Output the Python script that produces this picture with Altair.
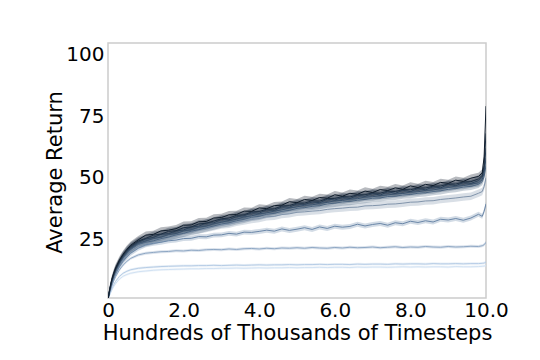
import altair as alt
import pandas as pd

X = [0, 0.05, 0.1, 0.15, 0.2, 0.3, 0.4, 0.5, 0.6, 0.8,
     1.0, 1.2, 1.4, 1.6, 1.8, 2.0, 2.2, 2.4, 2.6, 2.8, 3.0, 3.2, 3.4, 3.6, 3.8,
     4.0, 4.2, 4.4, 4.6, 4.8, 5.0, 5.2, 5.4, 5.6, 5.8, 6.0, 6.2, 6.4, 6.6, 6.8,
     7.0, 7.2, 7.4, 7.6, 7.8, 8.0, 8.2, 8.4, 8.6, 8.8, 9.0, 9.2, 9.4, 9.6, 9.8,
     9.9, 9.95, 10.0]

# lightest (index 0) to darkest (index 9)
run0 = [1.0, 2.9, 4.6, 6.1, 7.3, 9.1, 10.3, 11.0, 11.5, 12.1,
        12.4, 12.7, 12.9, 13.0, 13.1, 13.2, 13.3, 13.3, 13.4, 13.4, 13.5, 13.5, 13.6, 13.5, 13.6,
        13.7, 13.6, 13.7, 13.7, 13.8, 13.7, 13.8, 13.8, 13.9, 13.8, 13.9, 13.9, 13.8, 14.0, 13.9,
        14.0, 14.0, 13.9, 14.0, 14.1, 14.0, 14.1, 14.0, 14.1, 14.1, 14.0, 14.2, 14.1, 14.1, 14.2,
        14.3, 14.4, 14.6]
run1 = [1.0, 3.2, 5.2, 6.9, 8.2, 10.2, 11.5, 12.3, 12.9, 13.5,
        13.8, 14.0, 14.2, 14.3, 14.4, 14.5, 14.5, 14.6, 14.6, 14.7, 14.6, 14.7, 14.8, 14.7, 14.8,
        14.9, 14.8, 14.9, 14.9, 15.0, 14.9, 15.0, 15.0, 15.1, 15.0, 15.1, 15.1, 15.0, 15.2, 15.1,
        15.2, 15.2, 15.1, 15.3, 15.2, 15.3, 15.3, 15.2, 15.4, 15.3, 15.3, 15.4, 15.3, 15.4, 15.4,
        15.5, 15.6, 16.0]
run2 = [1.0, 3.8, 6.3, 8.4, 10.1, 12.8, 14.8, 16.3, 17.5, 18.9,
        19.6, 19.9, 20.2, 20.3, 20.6, 20.5, 20.8, 20.7, 21.0, 21.1, 21.0, 21.3, 21.1, 21.4, 21.5,
        21.3, 21.6, 21.4, 21.7, 21.6, 21.8, 21.6, 21.9, 21.7, 21.6, 21.9, 21.7, 22.0, 21.8, 21.9,
        22.1, 21.8, 22.0, 22.2, 21.9, 22.1, 22.0, 22.3, 22.1, 22.0, 22.3, 22.1, 22.2, 22.4, 22.3,
        22.6, 23.0, 24.0]
run3 = [1.0, 4.2, 7.0, 9.3, 11.2, 14.1, 16.3, 18.1, 19.6, 21.6,
        23.0, 23.6, 24.0, 24.6, 24.9, 25.5, 25.6, 26.3, 26.2, 26.9, 27.0, 27.6, 27.3, 28.1, 28.0,
        28.4, 28.9, 28.5, 29.4, 28.8, 29.3, 29.9, 29.2, 30.2, 29.6, 30.5, 30.1, 30.4, 31.3, 30.6,
        31.2, 31.6, 30.9, 31.9, 31.5, 32.5, 32.0, 32.7, 32.2, 33.3, 33.0, 33.6, 32.9, 33.8, 35.3,
        34.5, 36.5, 39.5]
run4 = [1.0, 4.4, 7.4, 9.8, 11.8, 14.9, 17.2, 19.1, 20.7, 22.8,
        23.8, 24.7, 25.3, 26.2, 26.8, 27.7, 28.2, 29.0, 29.6, 30.3, 31.0, 31.3, 32.1, 32.6, 33.2,
        33.6, 34.3, 34.5, 35.2, 35.5, 36.1, 36.3, 36.6, 36.8, 37.3, 37.6, 37.8, 38.1, 38.2, 38.7,
        38.8, 39.0, 39.4, 39.5, 39.8, 40.2, 40.3, 40.7, 40.8, 41.3, 41.6, 41.9, 42.3, 42.6, 43.8,
        44.5, 46.5, 50.0]
run5 = [1.0, 4.6, 7.7, 10.1, 12.1, 15.2, 17.6, 19.5, 21.1, 23.1,
        24.0, 24.6, 25.5, 26.1, 27.0, 27.6, 28.5, 29.1, 29.9, 30.6, 31.4, 31.9, 32.7, 33.3, 34.1,
        34.5, 35.3, 35.7, 36.5, 36.9, 37.7, 38.0, 38.5, 38.8, 39.5, 39.8, 40.3, 40.5, 41.0, 41.3,
        41.8, 41.9, 42.5, 42.6, 43.1, 43.3, 43.8, 44.0, 44.5, 44.8, 45.4, 45.7, 46.3, 46.6, 47.4,
        48.5, 50.5, 55.0]
run6 = [1.0, 4.8, 8.0, 10.4, 12.5, 15.6, 18.0, 20.0, 21.5, 23.6,
        24.6, 25.5, 26.1, 27.1, 27.6, 28.6, 29.1, 30.1, 30.6, 31.5, 32.1, 32.8, 33.3, 34.3, 34.7,
        35.5, 35.9, 36.6, 37.1, 37.9, 38.3, 39.0, 39.1, 39.8, 40.1, 40.8, 40.9, 41.5, 41.6, 42.3,
        42.4, 42.9, 43.1, 43.6, 43.7, 44.3, 44.4, 45.0, 45.1, 45.8, 46.1, 46.7, 46.9, 47.5, 48.0,
        49.3, 52.0, 58.0]
run7 = [1.0, 5.0, 8.3, 10.8, 12.9, 16.0, 18.5, 20.4, 22.0, 24.1,
        25.3, 26.0, 27.2, 27.5, 28.6, 29.0, 30.2, 30.5, 31.8, 31.9, 33.2, 33.1, 34.4, 34.7, 35.9,
        35.8, 37.1, 36.9, 38.3, 38.2, 39.5, 39.3, 40.3, 40.0, 41.4, 41.1, 42.1, 41.7, 42.9, 42.6,
        43.7, 43.1, 44.4, 43.8, 45.0, 44.5, 45.7, 45.2, 46.4, 46.0, 47.4, 46.9, 48.1, 47.8, 48.9,
        50.3, 53.5, 62.0]
run8 = [1.0, 5.2, 8.6, 11.1, 13.2, 16.3, 18.8, 20.8, 22.4, 24.5,
        25.6, 26.9, 27.3, 28.4, 28.7, 29.9, 30.2, 31.4, 31.7, 32.6, 33.5, 33.8, 34.9, 35.1, 36.3,
        36.4, 37.4, 37.5, 38.7, 38.8, 39.9, 39.8, 40.8, 40.6, 41.7, 41.7, 42.5, 42.3, 43.2, 43.2,
        44.0, 43.8, 44.7, 44.5, 45.3, 45.2, 46.0, 45.9, 46.7, 46.7, 47.6, 47.5, 48.4, 48.5, 49.6,
        51.0, 55.0, 68.0]
run9 = [1.0, 5.5, 9.0, 11.5, 13.6, 16.8, 19.2, 21.2, 22.8, 25.0,
        26.9, 27.2, 28.6, 28.9, 29.5, 30.9, 31.0, 32.3, 32.4, 33.8, 34.0, 35.1, 35.2, 36.6, 36.5,
        37.9, 37.6, 38.8, 39.0, 40.4, 40.0, 41.3, 40.9, 42.1, 41.8, 43.2, 42.6, 43.8, 43.4, 44.7,
        44.1, 45.3, 44.9, 46.0, 45.4, 46.8, 46.1, 47.4, 46.9, 48.2, 47.8, 49.1, 48.6, 49.9, 50.6,
        52.0, 58.5, 79.0]

runs = [run0, run1, run2, run3, run4, run5, run6, run7, run8, run9]
spread = [0.5, 0.5, 0.6, 1.0, 1.5, 1.5, 1.5, 1.5, 1.5, 1.5]
names = ["r0", "r1", "r2", "r3", "r4", "r5", "r6", "r7", "r8", "r9"]
line_colors = ["#d2e2f3", "#b7cde6", "#8ea7c4", "#6b87a8", "#8194ab",
               "#4d6682", "#3a526d", "#2b4159", "#1e3044", "#0f1c2b"]

rows = []
for name, vals, s in zip(names, runs, spread):
    for x, y in zip(X, vals):
        rows.append({"x": x, "y": y, "lo": y - s, "hi": y + s, "run": name})
df = pd.DataFrame(rows)

color = alt.Color("run:N", scale=alt.Scale(domain=names, range=line_colors), legend=None)
xenc = alt.X("x:Q", scale=alt.Scale(domain=[0, 10], nice=False),
             axis=alt.Axis(values=[0, 2, 4, 6, 8, 10], labelFlush=False, labelPadding=2,
                           labelExpr="datum.value == 0 ? '0' : format(datum.value, '.1f')",
                           title="Hundreds of Thousands of Timesteps",
                           titleY=41, titleBaseline="alphabetic"))
yenc = alt.Y("y:Q", scale=alt.Scale(domain=[1.5, 104.5], nice=False, zero=False),
             axis=alt.Axis(values=[25, 50, 75, 100], title="Average Return", labelPadding=4,
                           titleX=-47, titleY=129, titleAngle=-90,
                           titleAlign="center", titleBaseline="alphabetic"))

band = alt.Chart(df).mark_area(opacity=0.3, clip=True).encode(
    x=xenc, y=alt.Y("lo:Q", scale=alt.Scale(domain=[1.5, 104.5], nice=False, zero=False)),
    y2="hi:Q", color=color, detail="run:N")
line = alt.Chart(df).mark_line(strokeWidth=1, clip=True).encode(
    x=xenc, y=yenc, color=color, detail="run:N")

chart = alt.layer(band, line).properties(
    width=378, height=255,
    autosize=alt.AutoSizeParams(type="none"),
    padding={"left": 100, "top": 35, "right": 46, "bottom": 54},
).configure_view(stroke="#cccccc", strokeWidth=1.5).configure_axis(
    domain=False, ticks=False, grid=False,
    labelFont="DejaVu Sans", titleFont="DejaVu Sans",
    labelFontSize=20, titleFontSize=21, titleFontWeight="normal",
    labelColor="#000000", titleColor="#000000",
)

chart.save("out.html", embed_options={"renderer": "svg", "actions": False})
